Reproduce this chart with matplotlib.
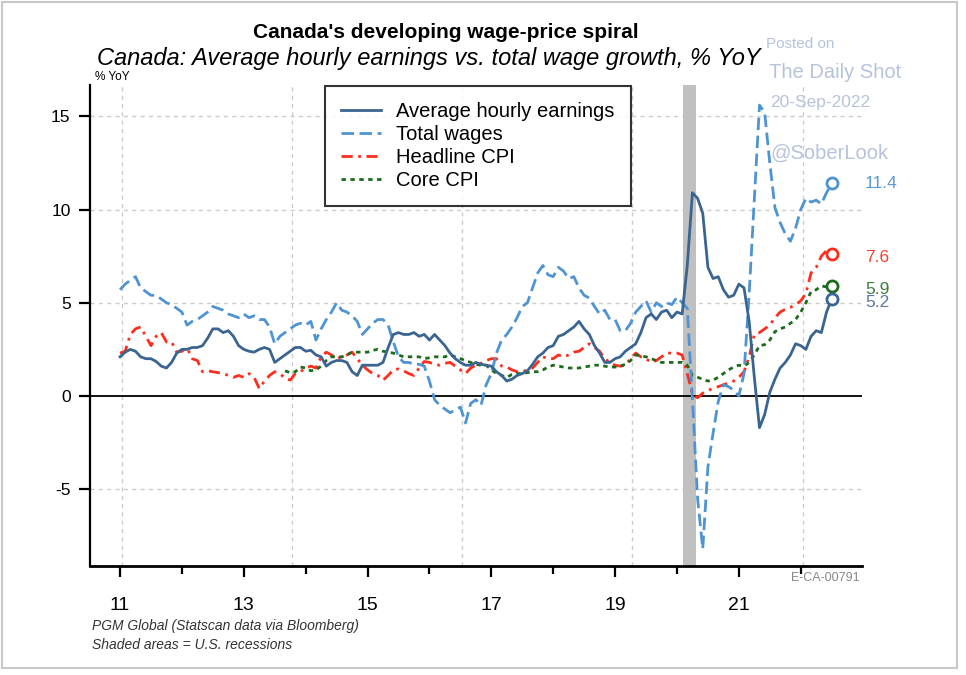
import numpy as np
import pandas as pd
import matplotlib
matplotlib.use("Agg")
import matplotlib.pyplot as plt

# monthly % YoY, Jan 2011 - Jul 2022
total_wages = [
    5.7, 6.0, 6.2, 6.4, 5.8, 5.6, 5.4, 5.4, 5.2, 5.0, 4.9, 4.7,
    4.5, 3.8, 4.0, 4.1, 4.3, 4.5, 4.8, 4.7, 4.6, 4.4, 4.3, 4.2,
    4.4, 4.2, 4.3, 4.1, 4.1, 3.7, 2.8, 3.2, 3.4, 3.6, 3.8, 3.9,
    3.8, 4.0, 3.0, 3.6, 4.1, 4.5, 5.0, 4.6, 4.5, 4.3, 4.0, 3.3,
    3.6, 3.9, 4.1, 4.1, 3.8, 2.9, 2.1, 1.8, 1.8, 1.7, 1.7, 1.6,
    0.8, -0.2, -0.5, -0.7, -0.9, -0.75, -0.6, -1.45, -0.4, -0.2, -0.5, 0.6,
    1.2, 2.3, 3.0, 3.3, 3.7, 4.2, 4.8, 5.0, 5.8, 6.6, 7.0, 6.5,
    6.4, 6.9, 6.7, 6.3, 6.4, 5.8, 5.4, 5.25, 4.8, 4.4, 4.6, 4.1,
    4.1, 3.5, 3.5, 3.9, 4.5, 4.8, 5.1, 4.5, 5.0, 4.8, 5.0, 4.9,
    5.3, 5.0, 4.7, -0.2, -5.5, -8.2, -3.8, -2.0, -0.3, 0.6, 0.5, 0.3,
    0.0, 1.2, 5.5, 10.5, 15.6, 15.2, 12.5, 10.1, 9.3, 8.7, 8.3, 9.0,
    10.0, 10.6, 10.4, 10.5, 10.3, 10.9, 11.4,
]
avg_hourly = [
    2.1, 2.35, 2.5, 2.4, 2.1, 2.0, 2.0, 1.85, 1.6, 1.5, 1.8, 2.3,
    2.5, 2.5, 2.6, 2.6, 2.7, 3.1, 3.6, 3.6, 3.4, 3.5, 3.2, 2.7,
    2.5, 2.4, 2.35, 2.5, 2.6, 2.5, 1.8, 2.0, 2.2, 2.4, 2.6, 2.6,
    2.4, 2.45, 2.2, 2.1, 1.6, 1.8, 1.9, 1.9, 1.8, 1.3, 1.1, 1.65,
    1.65, 1.65, 1.65, 1.8, 2.6, 3.3, 3.4, 3.3, 3.3, 3.4, 3.2, 3.3,
    3.0, 3.3, 3.0, 2.7, 2.3, 2.0, 1.8, 1.65, 1.65, 1.8, 1.7, 1.65,
    1.6, 1.3, 1.1, 0.8, 0.9, 1.1, 1.2, 1.35, 1.7, 2.1, 2.3, 2.6,
    2.7, 3.2, 3.3, 3.5, 3.7, 4.0, 3.6, 3.3, 2.7, 2.3, 1.8, 1.8,
    2.0, 2.1, 2.4, 2.6, 2.8, 3.4, 4.2, 4.4, 4.1, 4.5, 4.6, 4.2,
    4.5, 4.4, 7.0, 10.9, 10.6, 9.8, 6.9, 6.3, 6.4, 5.7, 5.3, 5.4,
    6.0, 5.8, 4.0, 1.0, -1.7, -1.0, 0.2, 0.9, 1.5, 1.8, 2.2, 2.8,
    2.7, 2.5, 3.2, 3.5, 3.4, 4.5, 5.2,
]
headline_cpi = [
    2.3, 2.4, 3.3, 3.6, 3.7, 3.2, 2.7, 3.2, 3.4, 2.9, 2.9, 2.35,
    2.4, 2.6, 2.0, 1.9, 1.3, 1.35, 1.3, 1.25, 1.2, 1.1, 1.0, 1.1,
    1.0, 1.2, 1.0, 0.4, 0.8, 1.1, 1.3, 1.2, 0.95, 0.85, 1.2, 1.3,
    1.5, 1.6, 1.5, 2.1, 2.35, 2.2, 2.0, 2.1, 2.2, 2.35, 2.0, 1.65,
    1.4, 1.2, 1.1, 0.85, 1.1, 1.4, 1.45, 1.35, 1.2, 1.1, 1.5, 1.85,
    1.8, 1.7, 1.65, 1.75, 1.8, 1.6, 1.4, 1.2, 1.5, 1.65, 1.75, 1.9,
    2.0, 2.0, 1.6, 1.55, 1.4, 1.3, 1.3, 1.4, 1.5, 1.8, 2.1, 2.0,
    2.0, 2.2, 2.1, 2.2, 2.35, 2.4, 2.6, 2.8, 2.6, 2.4, 2.0, 1.8,
    1.65, 1.6, 1.65, 2.0, 2.3, 2.1, 2.0, 1.8, 1.9, 2.1, 2.3, 2.3,
    2.3, 2.2, 1.2, 0.1, -0.1, 0.15, 0.3, 0.4, 0.5, 0.6, 0.7, 0.8,
    1.0, 1.3, 2.1, 3.3, 3.4, 3.6, 3.8, 4.2, 4.5, 4.65, 4.75, 4.9,
    5.1, 5.5, 6.6, 6.9, 7.5, 7.8, 7.6,
]
# core CPI starts Sep 2013
core_start = "2013-09"
core_cpi = [
    1.35, 1.25, 1.3, 1.55,
    1.5, 1.35, 1.4, 1.6, 1.9, 2.1, 2.1, 2.1, 2.2, 2.35, 2.35, 2.35,
    2.35, 2.45, 2.5, 2.4, 2.35, 2.3, 2.2, 2.1, 2.1, 2.1, 2.1, 2.0,
    2.05, 2.1, 2.1, 2.1, 2.2, 2.1, 2.0, 1.9, 1.8, 1.7, 1.65, 1.65,
    1.4, 1.2, 1.1, 1.0, 1.15, 1.2, 1.2, 1.25, 1.3, 1.3, 1.4, 1.55,
    1.65, 1.6, 1.55, 1.5, 1.5, 1.5, 1.55, 1.6, 1.65, 1.65, 1.6, 1.55,
    1.55, 1.6, 1.7, 1.9, 2.2, 2.15, 2.1, 2.0, 1.9, 1.8, 1.8, 1.8,
    1.8, 1.8, 1.65, 1.1, 1.0, 0.9, 0.8, 0.85, 1.0, 1.2, 1.4, 1.55,
    1.65, 1.6, 1.8, 2.2, 2.7, 2.75, 3.0, 3.45, 3.6, 3.7, 3.9, 4.1,
    4.5, 5.0, 5.6, 5.7, 5.9, 5.85, 5.9,
]

recession = (2020.1, 2020.3)
xticks_major = [2011, 2013, 2015, 2017, 2019, 2021]
xticks_minor = [2012, 2014, 2016, 2018, 2020, 2022]
xgrid = [2011.03, 2013.78, 2016.53, 2019.28, 2022.03]
yticks = [-5, 0, 5, 10, 15]

c_ahe = "#3b6591"
c_tw = "#4f94d2"
c_cpi = "#ff2d1e"
c_core = "#1d6b1d"
wm = "#b7c2dc"

def to_year(start, n):
    d = pd.date_range(start, periods=n, freq="MS")
    return d.year + (d.month - 1) / 12.0

x_all = to_year("2011-01", len(avg_hourly))
x_core = to_year(core_start, len(core_cpi))

plt.rcParams['font.family'] = ['Liberation Sans', 'DejaVu Sans']
plt.rcParams['axes.unicode_minus'] = False

W, H = 966, 675
fig = plt.figure(figsize=(W / 100, H / 100), dpi=100)

def fx(px):
    return px / W

def fy(py):
    return 1 - py / H

ax = fig.add_axes([fx(90), fy(566), fx(862) - fx(90), fy(85) - fy(566)])
ax.set_xlim(2010.515, 2022.99)
ax.set_ylim(-9.12, 16.68)

ax.axvspan(*recession, color="#c0c0c0", lw=0, zorder=1)
for g in xgrid:
    ax.axvline(g, color="#cccccc", lw=1, ls=(0, (3, 3)), zorder=0)
for v in yticks:
    if v != 0:
        ax.axhline(v, color="#cccccc", lw=1, ls=(0, (3, 3)), zorder=0)
ax.axhline(0, color="black", lw=1.3, zorder=2)

lw = 2.0
ax.plot(x_all, avg_hourly, color=c_ahe, lw=lw, label="Average hourly earnings", zorder=5)
ax.plot(x_all, total_wages, color=c_tw, lw=lw, ls=(0, (4.5, 2)), label="Total wages", zorder=4)
ax.plot(x_all, headline_cpi, color=c_cpi, lw=lw, ls=(0, (4, 2, 1, 2)), label="Headline CPI", zorder=3)
ax.plot(x_core, core_cpi, color=c_core, lw=lw, ls=(0, (1.6, 1.6)), label="Core CPI", zorder=3)

# end markers + labels
ends = [(x_all, total_wages, c_tw, "#5b9bd5", 0.0),
        (x_all, headline_cpi, c_cpi, "#f0432f", -0.15),
        (x_core, core_cpi, c_core, "#3f7a3f", -0.2),
        (x_all, avg_hourly, c_ahe, "#5a78a0", -0.2)]
for xs, ys, c, tc, dy in ends:
    ax.plot(xs[-1], ys[-1], "o", ms=8, mfc="white", mec=c, mew=2, zorder=6)
    ax.text(2023.04, ys[-1] + dy, f"{ys[-1]:.1f}", color=tc, fontsize=12.5,
            va="center", ha="left", clip_on=False)

for s in ["top", "right"]:
    ax.spines[s].set_visible(False)
ax.spines["left"].set_linewidth(1.6)
ax.spines["bottom"].set_linewidth(2)

ax.set_xticks(xticks_major)
ax.set_xticklabels([f"{y % 100:02d}" for y in xticks_major])
ax.set_xticks(xticks_minor, minor=True)
ax.set_yticks(yticks)
ax.tick_params(axis="x", which="major", length=8, width=1.6, pad=14, labelsize=14, direction="out")
ax.tick_params(axis="x", which="minor", length=6, width=1.6, direction="out")
ax.tick_params(axis="y", length=8, width=1.6, pad=6, labelsize=12.5, direction="out")

leg = ax.legend(loc="upper left", bbox_to_anchor=(fx(325), fy(86)), bbox_transform=fig.transFigure,
                fontsize=14.5, frameon=True, fancybox=False, handlelength=2.0, handletextpad=0.75,
                labelspacing=0.2, borderpad=0.8, borderaxespad=0)
leg.get_frame().set_edgecolor("black")
leg.get_frame().set_linewidth(1.5)

# titles
fig.text(fx(446), fy(33), "Canada's developing wage-price spiral", ha="center", va="center",
         fontsize=15, fontweight="bold")
fig.text(fx(97), fy(58), "Canada: Average hourly earnings vs. total wage growth, % YoY",
         ha="left", va="center", fontsize=17, style="italic")
fig.text(fx(95), fy(77), "% YoY", ha="left", va="center", fontsize=8.5)

# watermark
fig.text(fx(766), fy(44), "Posted on", color=wm, fontsize=11, ha="left", va="center")
fig.text(fx(769), fy(73), "The Daily Shot", color=wm, fontsize=14.5, ha="left", va="center")
fig.text(fx(770), fy(103), "20-Sep-2022", color=wm, fontsize=12.5, ha="left", va="center")
fig.text(fx(770), fy(153), "@SoberLook", color=wm, fontsize=14.5, ha="left", va="center")

# footer
fig.text(fx(860), fy(578), "E-CA-00791", color="#888888", fontsize=9, ha="right", va="center")
fig.text(fx(92), fy(626), "PGM Global (Statscan data via Bloomberg)", fontsize=10, style="italic",
         ha="left", va="center", color="#333333")
fig.text(fx(92), fy(645), "Shaded areas = U.S. recessions", fontsize=10, style="italic",
         ha="left", va="center", color="#333333")

# outer frame
fig.patches.append(plt.Rectangle((fx(2), fy(668)), fx(955), fy(2) - fy(668), transform=fig.transFigure,
                                 fill=False, edgecolor="#c8c8c8", lw=1.5))

fig.savefig("out.png", dpi=100)
